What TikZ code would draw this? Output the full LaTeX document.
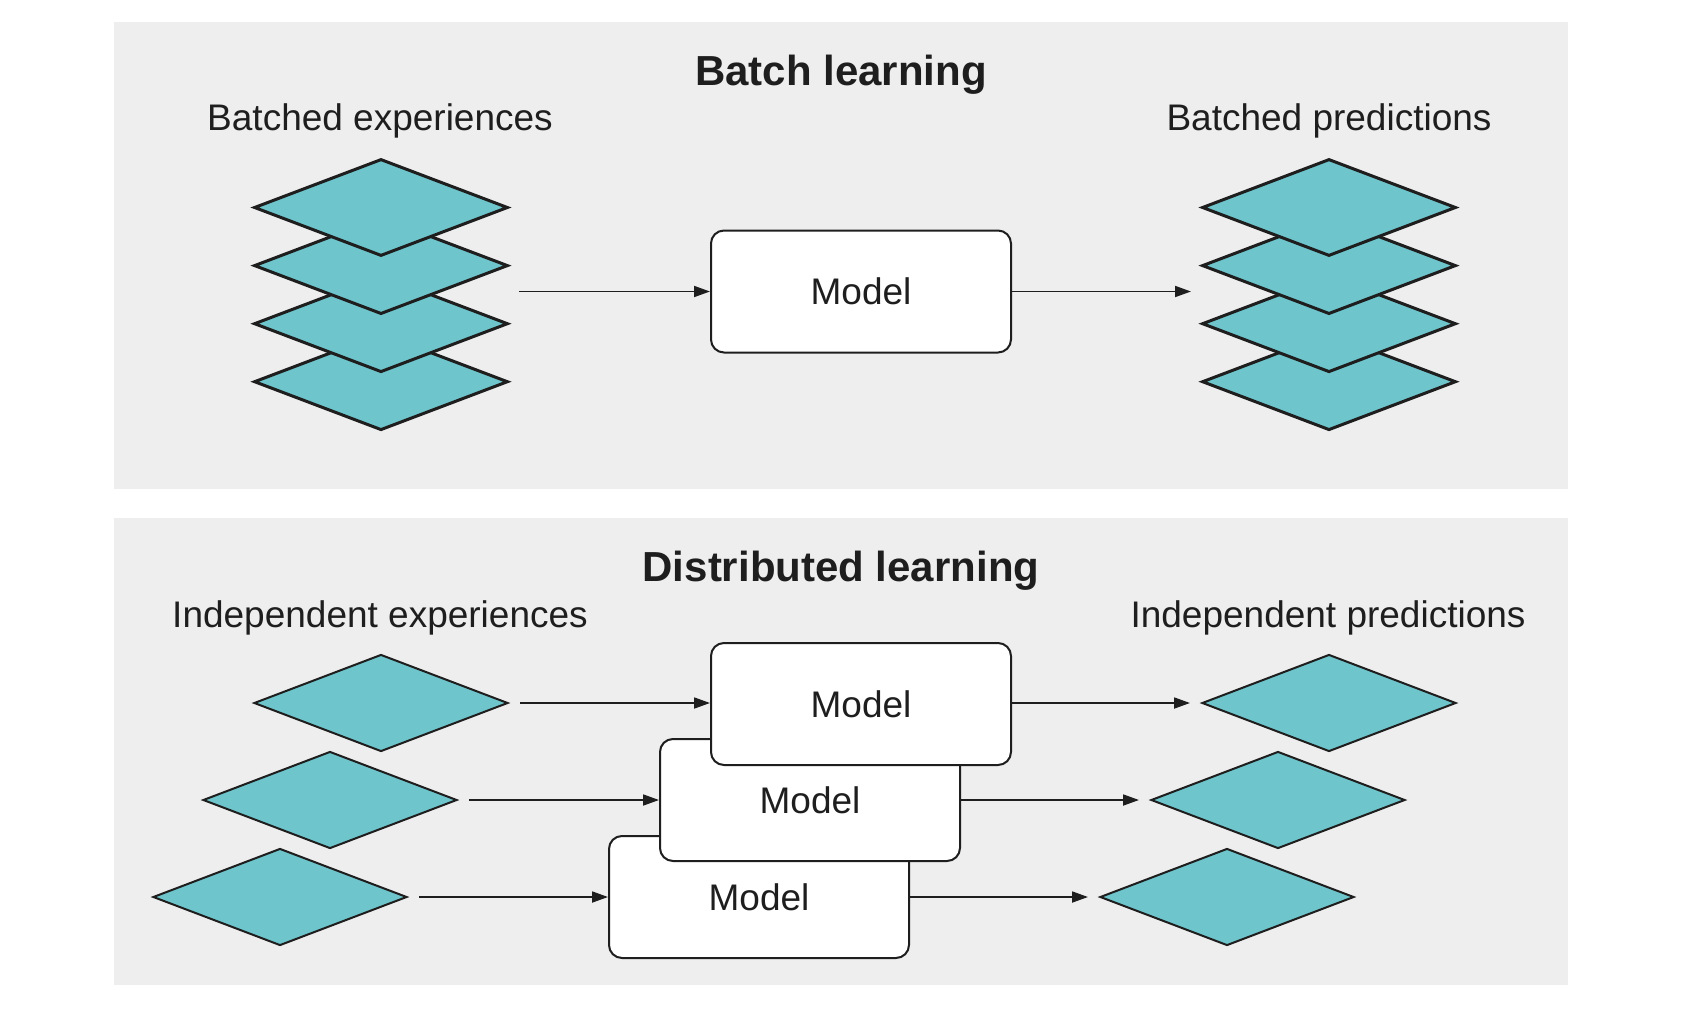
\documentclass[tikz,border=0pt]{standalone}
\usepackage{fontspec}
\setmainfont{Liberation Sans}
\usetikzlibrary{shapes.geometric,arrows.meta}
\definecolor{panelgray}{HTML}{EEEEEE}
\definecolor{diamfill}{HTML}{6FC5CC}
\definecolor{ink}{HTML}{1E1E1E}
\begin{document}
\begin{tikzpicture}[x=0.5pt,y=-0.5pt,
  panel/.style={fill=panelgray,draw=none,inner sep=0pt},
  layer/.style={diamond,draw=ink,fill=diamfill,line width=1.5pt,minimum width=127pt,minimum height=48.5pt,inner sep=0pt},
  item/.style={layer,line width=1pt},
  modelbox/.style={draw=ink,fill=white,rounded corners=6.5pt,line width=1pt,minimum width=150pt,minimum height=61pt,inner sep=0pt,text=ink,font=\fontsize{18.5}{22}\selectfont},
  lbl/.style={text=ink,inner sep=0pt,font=\fontsize{18.5}{22}\selectfont},
  ttl/.style={text=ink,inner sep=0pt,font=\bfseries\fontsize{21}{25}\selectfont},
  flow/.style={-{Triangle[length=8pt,width=5.5pt]},line width=0.9pt,draw=ink}]
\useasboundingbox (0,0) rectangle (1686,1028);
\fill[white] (0,0) rectangle (1686,1028);
% panels
\node[panel,minimum width=727pt,minimum height=233.5pt] (toppanel) at (841,255.5) {};
\node[panel,minimum width=727pt,minimum height=233.5pt] (botpanel) at (841,751.5) {};
% ---------- Batch learning ----------
\node[ttl] (t1) at (841,75) {Batch learning};
\node[lbl] (l1) at (380,121) {Batched experiences};
\node[lbl] (l2) at (1329,121) {Batched predictions};
\node[layer] (e4) at (381,381.7) {};
\node[layer] (e3) at (381,323.7) {};
\node[layer] (e2) at (381,265.6) {};
\node[layer] (e1) at (381,207.5) {};
\node[layer] (p4) at (1329,381.7) {};
\node[layer] (p3) at (1329,323.7) {};
\node[layer] (p2) at (1329,265.6) {};
\node[layer] (p1) at (1329,207.5) {};
\node[modelbox] (m0) at (861,291.5) {Model};
\coordinate (ein) at (519,291.5);
\coordinate (pout) at (1191,291.5);
\draw[flow] (ein) -- (m0.west);
\draw[flow] (m0.east) -- (pout);
% ---------- Distributed learning ----------
\node[ttl] (t2) at (841,571) {Distributed learning};
\node[lbl] (l3) at (380,618) {Independent experiences};
\node[lbl] (l4) at (1328,618) {Independent predictions};
\node[item] (d1) at (381,703) {};
\node[item] (d2) at (330,800) {};
\node[item] (d3) at (280,897) {};
\node[item] (r1) at (1329,703) {};
\node[item] (r2) at (1278,800) {};
\node[item] (r3) at (1227,897) {};
\node[modelbox] (m3) at (759,897) {Model};
\node[modelbox] (m2) at (810,800) {Model};
\node[modelbox] (m1) at (861,704) {Model};
\draw[flow,shorten <=5.5pt] (d1.east) -- (m1.west |- d1.east);
\draw[flow,shorten <=5.5pt] (d2.east) -- (m2.west |- d2.east);
\draw[flow,shorten <=5.5pt] (d3.east) -- (m3.west |- d3.east);
\draw[flow,shorten >=5.5pt] (m1.east |- r1.west) -- (r1.west);
\draw[flow,shorten >=5.5pt] (m2.east |- r2.west) -- (r2.west);
\draw[flow,shorten >=5.5pt] (m3.east |- r3.west) -- (r3.west);
\end{tikzpicture}
\end{document}
